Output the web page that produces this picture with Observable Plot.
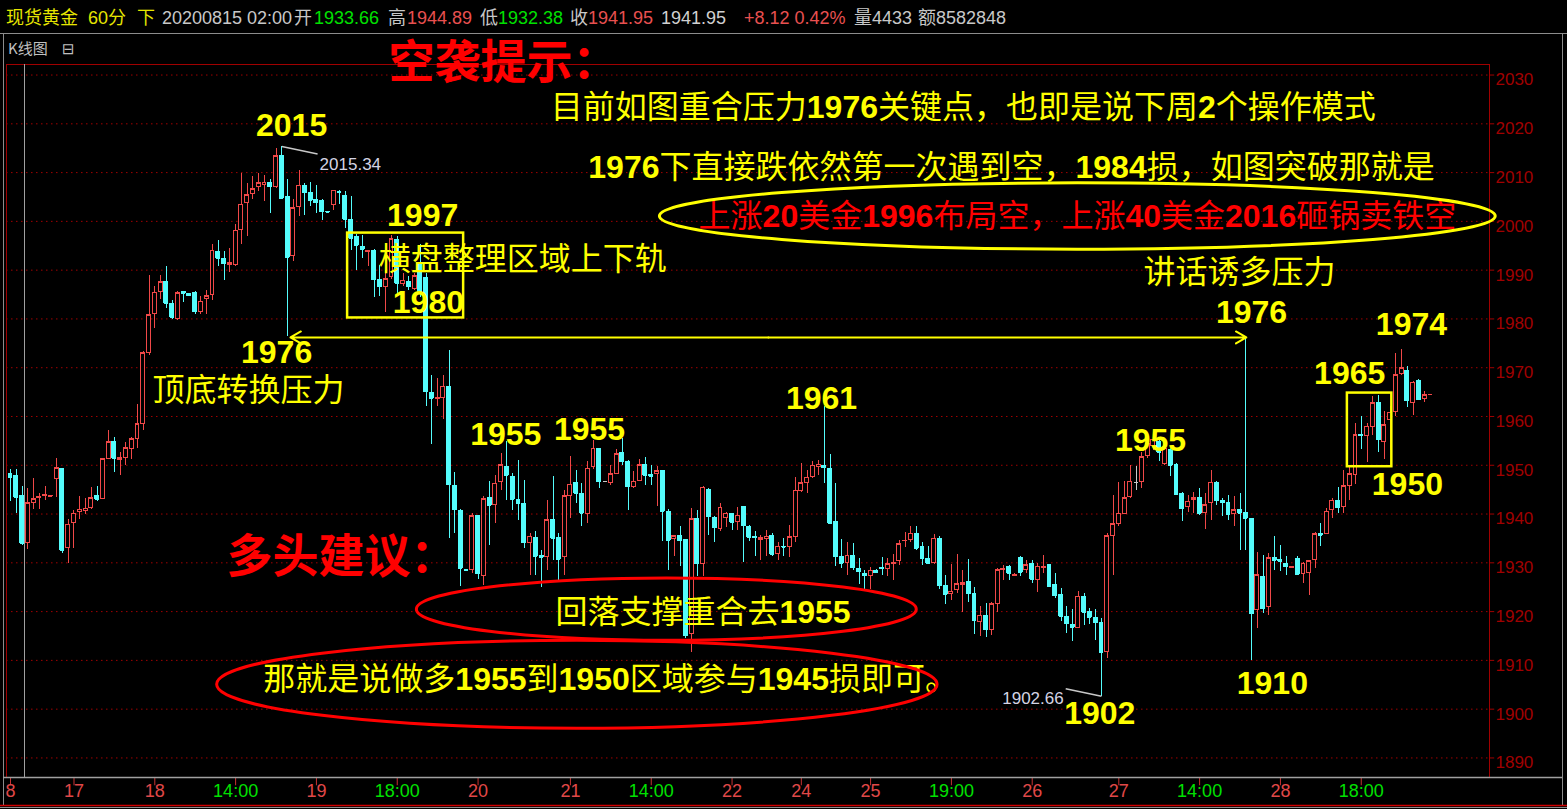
<!DOCTYPE html>
<html><head><meta charset="utf-8">
<script src="https://cdn.jsdelivr.net/npm/d3@7"></script>
<script src="https://cdn.jsdelivr.net/npm/@observablehq/plot@0.6"></script>
<style>
html,body{margin:0;padding:0;background:#000;overflow:hidden;width:1567px;height:809px;}
#header{position:relative;height:33px;width:1567px;border-bottom:1px solid #8c8c8c;font-family:"Liberation Sans","Noto Sans CJK SC",sans-serif;font-size:18px;}
#header span{position:absolute;top:8px;line-height:20px;white-space:nowrap;}
#chart svg{display:block;}
</style></head><body>
<div id="header"></div>
<div id="chart"></div>
<script>
// ---- data: hourly candles (spot gold, 60 min) ----
const open = [
1948.2,1947.7,1943.7,1934.0,1942.2,1943.2,1943.6,1943.6,1947.1,1949.2,
1933.0,1938.2,1940.4,1940.6,1941.3,1943.7,1943.0,1951.2,1954.7,1951.1,
1951.4,1953.3,1955.4,1958.4,1973.0,1981.0,1985.6,1987.5,1983.1,1979.9,
1985.6,1985.1,1985.4,1981.5,1984.0,1984.9,1993.8,1992.3,1991.1,1991.1,
1998.2,2003.7,2005.6,2007.0,2007.5,2007.9,2007.1,2013.3,2004.9,1992.8,
2003.0,2007.3,2005.9,2004.3,2004.2,2002.0,2003.4,2006.1,2005.1,2000.3,
1996.7,1994.7,1993.7,1994.0,1987.9,1986.6,1988.5,1996.2,1987.1,1987.6,
1986.1,1991.1,1988.3,1964.9,1963.5,1963.7,1966.1,1945.8,1940.6,1928.6,
1928.5,1939.6,1927.4,1943.2,1941.8,1946.6,1949.7,1947.6,1942.8,1942.1,
1934.1,1935.0,1931.3,1931.2,1938.7,1935.0,1931.2,1943.8,1946.4,1944.2,
1940.0,1949.7,1953.4,1946.6,1946.4,1948.3,1952.5,1950.7,1945.6,1946.8,
1950.0,1948.0,1948.2,1948.8,1940.4,1934.8,1935.6,1934.6,1915.5,1938.9,
1929.8,1945.0,1939.2,1937.0,1939.2,1940.0,1938.3,1941.4,1937.4,1935.2,
1934.7,1934.9,1935.5,1931.9,1933.3,1933.2,1935.2,1944.8,1946.3,1947.5,
1949.7,1949.9,1949.2,1938.3,1931.2,1929.9,1931.4,1928.7,1927.8,1927.3,
1928.4,1929.0,1928.7,1929.7,1930.3,1934.4,1934.7,1936.0,1933.3,1930.8,
1929.9,1934.9,1925.3,1923.6,1924.4,1925.4,1926.1,1923.7,1917.9,1919.2,
1916.3,1921.6,1928.5,1929.2,1927.4,1931.0,1928.6,1929.8,1926.4,1929.0,
1929.5,1925.4,1923.5,1918.9,1917.2,1916.7,1923.0,1919.9,1918.6,1917.7,
1911.7,1935.4,1938.0,1940.1,1943.5,1946.4,1946.6,1952.0,1954.0,1954.8,
1950.2,1953.2,1950.0,1944.1,1941.5,1942.8,1943.2,1940.2,1942.2,1946.4,
1942.7,1942.3,1940.0,1940.8,1940.2,1938.9,1920.3,1927.0,1921.0,1930.9,
1930.5,1929.7,1929.0,1930.7,1927.8,1927.9,1930.5,1936.0,1936.0,1940.8,
1942.7,1941.5,1945.7,1948.0,1956.2,1956.0,1957.9,1962.7,1954.8,1959.3,
1961.0,1968.7,1969.4,1962.8,1967.3,1963.5,1964.4];
const high = [
1949.2,1949.2,1945.7,1945.3,1947.3,1944.2,1945.6,1943.7,1951.3,1949.4,
1938.8,1940.8,1943.6,1943.2,1945.4,1945.7,1951.4,1957.2,1955.7,1952.6,
1954.6,1955.7,1962.4,1973.4,1989.0,1986.6,1989.0,1990.7,1983.8,1985.6,
1985.7,1985.1,1985.7,1984.6,1985.9,1995.3,1996.0,1993.8,1994.5,1999.3,
2009.9,2007.8,2009.2,2009.9,2009.5,2008.5,2015.0,2015.34,2008.5,2004.4,
2010.4,2007.8,2008.0,2007.3,2004.4,2002.1,2006.4,2006.4,2006.1,2005.0,
1997.4,1997.2,1994.1,1994.3,1990.9,1990.0,1997.2,1996.9,1989.4,1988.7,
1989.4,1995.2,1989.4,1968.5,1967.8,1968.5,1973.5,1948.5,1940.9,1928.6,
1940.2,1939.8,1943.5,1946.6,1948.0,1952.5,1954.8,1948.4,1951.0,1946.9,
1936.1,1936.5,1932.6,1942.8,1947.6,1936.0,1944.9,1951.7,1949.0,1946.2,
1950.7,1955.1,1953.4,1946.7,1950.0,1953.2,1955.5,1951.0,1948.8,1951.2,
1951.6,1950.0,1949.7,1949.0,1940.9,1935.6,1937.4,1934.8,1941.1,1940.8,
1945.7,1945.2,1939.4,1942.1,1940.3,1940.1,1941.4,1941.5,1937.7,1936.4,
1935.5,1936.7,1936.0,1934.2,1934.9,1937.6,1947.5,1950.3,1949.0,1950.8,
1951.0,1962.1,1952.2,1946.3,1934.7,1934.2,1934.0,1930.8,1928.4,1929.0,
1928.7,1931.1,1930.8,1931.8,1934.5,1936.2,1937.4,1937.4,1934.2,1933.3,
1935.8,1935.3,1927.3,1929.7,1931.8,1928.5,1930.7,1925.0,1921.1,1921.6,
1921.8,1928.8,1929.5,1929.5,1927.9,1931.2,1930.4,1930.5,1929.8,1931.5,
1929.7,1927.9,1924.7,1921.1,1920.4,1924.2,1923.8,1920.6,1920.4,1918.6,
1936.0,1943.8,1946.4,1946.6,1950.0,1949.7,1952.7,1954.8,1956.0,1955.1,
1953.8,1953.8,1950.3,1944.5,1943.8,1944.5,1945.2,1944.2,1948.9,1946.6,
1943.2,1943.7,1943.5,1944.2,1976.2,1939.1,1932.2,1931.6,1931.9,1935.3,
1933.6,1931.2,1929.1,1931.2,1930.0,1930.5,1936.3,1938.1,1941.1,1943.2,
1945.4,1948.9,1950.0,1958.6,1959.9,1958.6,1964.2,1964.4,1961.0,1962.0,
1972.9,1973.8,1970.3,1967.1,1967.5,1965.1,1964.5];
const low = [
1942.5,1940.1,1933.6,1932.8,1941.0,1941.0,1942.7,1943.5,1943.4,1931.9,
1929.9,1933.0,1938.8,1940.0,1941.0,1942.5,1942.9,1951.1,1948.6,1948.0,
1950.0,1951.2,1953.5,1957.2,1972.6,1978.1,1984.0,1982.2,1979.9,1979.7,
1983.3,1984.6,1980.9,1980.9,1981.0,1983.8,1990.7,1987.8,1989.6,1990.7,
1995.2,1996.9,2004.5,2006.1,2004.0,2001.7,2006.8,2004.5,1976.5,1991.7,
2001.1,2001.3,2003.0,2001.7,2000.1,2001.9,2002.2,2003.4,1998.6,1994.1,
1990.0,1992.4,1990.7,1984.4,1984.6,1981.3,1988.0,1984.9,1986.6,1985.9,
1985.8,1984.4,1962.0,1954.2,1962.0,1959.4,1935.0,1936.0,1925.1,1928.4,
1927.8,1926.5,1925.4,1933.6,1938.0,1944.9,1942.8,1940.8,1938.7,1932.9,
1927.4,1927.4,1925.0,1928.5,1930.5,1926.4,1927.4,1939.1,1942.1,1937.5,
1938.0,1949.1,1945.2,1946.5,1945.9,1948.2,1950.0,1940.8,1945.2,1946.6,
1945.9,1945.9,1941.5,1934.3,1928.5,1931.2,1929.2,1914.5,1911.7,1927.1,
1927.1,1935.6,1934.1,1936.5,1937.3,1936.6,1936.6,1930.1,1934.4,1931.2,
1930.4,1931.2,1931.2,1930.5,1931.2,1931.1,1934.2,1944.5,1944.2,1947.2,
1947.9,1946.3,1937.8,1929.2,1928.9,1927.3,1928.4,1925.6,1924.2,1924.6,
1927.8,1927.3,1927.1,1926.4,1929.4,1933.2,1934.2,1932.6,1929.4,1929.7,
1929.7,1924.6,1921.5,1922.2,1923.7,1919.9,1921.8,1915.3,1914.8,1914.7,
1915.1,1919.9,1926.4,1926.4,1927.4,1927.2,1927.8,1925.7,1924.0,1927.9,
1925.0,1922.7,1917.9,1915.6,1913.8,1916.5,1917.2,1917.4,1914.1,1902.66,
1910.4,1927.4,1937.5,1940.0,1943.2,1944.9,1945.2,1951.4,1953.0,1950.7,
1950.0,1947.6,1943.8,1938.4,1940.4,1940.1,1939.7,1936.8,1938.7,1941.8,
1939.4,1938.7,1937.4,1932.6,1932.6,1910.0,1916.5,1919.6,1919.2,1928.5,
1928.3,1927.3,1928.9,1927.3,1925.7,1923.4,1928.8,1933.3,1935.9,1939.1,
1940.2,1940.1,1942.8,1946.1,1953.2,1950.5,1956.2,1952.6,1951.1,1953.0,
1959.9,1968.5,1961.9,1960.3,1963.2,1962.8,1964.3];
const close = [
1947.4,1943.4,1934.0,1942.2,1943.0,1943.5,1944.0,1943.65,1949.4,1932.6,
1937.8,1940.1,1940.9,1941.1,1943.2,1943.0,1951.2,1954.7,1951.4,1951.4,
1953.5,1955.3,1958.4,1973.0,1980.8,1985.4,1987.5,1983.2,1980.3,1985.3,
1985.3,1984.8,1981.5,1983.5,1984.6,1994.0,1992.4,1991.3,1991.4,1998.1,
2003.4,2005.4,2006.6,2007.8,2007.9,2007.1,2013.3,2004.7,1992.6,2002.7,
2007.3,2005.9,2004.3,2003.8,2002.0,2001.9,2006.3,2005.9,2000.4,1996.5,
1995.1,1994.3,1993.9,1988.0,1986.6,1988.1,1996.3,1987.3,1987.8,1986.6,
1988.8,1985.6,1965.1,1963.7,1963.7,1966.1,1946.0,1940.9,1928.9,1928.5,
1939.5,1927.8,1943.0,1941.8,1946.2,1950.0,1948.0,1943.0,1942.1,1934.1,
1935.3,1931.3,1931.1,1938.7,1935.0,1930.7,1943.6,1946.0,1944.3,1940.2,
1949.3,1953.4,1946.6,1946.6,1948.2,1952.3,1950.7,1945.6,1946.6,1950.0,
1948.0,1947.7,1948.8,1940.6,1934.6,1935.4,1934.5,1915.1,1938.9,1929.8,
1945.4,1939.4,1937.2,1941.3,1940.1,1938.3,1939.7,1937.6,1935.2,1935.1,
1935.0,1935.3,1931.8,1933.3,1933.2,1935.2,1944.8,1946.3,1947.4,1949.9,
1950.1,1949.5,1938.1,1931.2,1929.9,1931.4,1929.0,1928.2,1927.3,1928.4,
1928.0,1928.8,1929.7,1929.9,1933.8,1934.5,1936.0,1933.0,1930.8,1929.9,
1934.9,1925.3,1923.6,1924.1,1925.6,1925.8,1923.7,1918.2,1919.2,1916.3,
1921.5,1928.5,1928.8,1927.9,1927.6,1928.1,1929.5,1926.6,1929.2,1929.2,
1925.2,1923.3,1919.0,1917.5,1916.8,1923.0,1919.9,1918.8,1917.7,1911.7,
1935.4,1937.9,1940.1,1943.2,1946.6,1946.4,1951.6,1954.4,1955.2,1952.7,
1953.4,1950.0,1944.1,1941.1,1942.5,1943.2,1940.2,1941.8,1946.4,1942.7,
1942.3,1940.0,1940.8,1940.2,1939.1,1919.6,1927.5,1920.6,1930.9,1930.5,
1930.3,1929.2,1929.05,1927.7,1929.8,1930.3,1935.9,1935.7,1940.5,1942.7,
1941.3,1945.7,1948.2,1956.2,1956.0,1957.9,1962.7,1955.2,1958.2,1960.8,
1968.5,1969.9,1963.2,1966.9,1963.4,1964.4,1964.5];

// x-axis ticks (candle index) and their labels
const tickIdx = [0,11,25,39,53,67,81,97,111,125,137,149,163,177,192,206,220,234];
const tickLabels = ["8","17","18","14:00","19","18:00","20","21","14:00","22","24","25","19:00","26","27","14:00","28","18:00"];
const priceTicks = [1890,1900,1910,1920,1930,1940,1950,1960,1970,1980,1990,2000,2010,2020,2030];

// header quote
const headerItems = [
  ["现货黄金","#e6e600",6],["60分","#e6e600",88],["下","#e6e600",137],
  ["20200815 02:00","#c8c8c8",162],["开","#c8c8c8",294],["1933.66","#00e000",314],
  ["高","#c8c8c8",388],["1944.89","#e85050",407],["低","#c8c8c8",480],["1932.38","#00e000",498],
  ["收","#c8c8c8",570],["1941.95","#e85050",588],["1941.95","#d0d0d0",661],
  ["+8.12 0.42%","#e85050",744],["量4433","#c8c8c8",854],["额8582848","#c8c8c8",918]
];

// annotations (candle index, price)
const levelLabels = [
  {text:"2015",i:48.7,p:2019.6},{text:"1997",i:71.4,p:2001.2},{text:"1980",i:72.4,p:1983.4},
  {text:"1976",i:46.1,p:1973.1},{text:"1955",i:85.8,p:1956.3},{text:"1955",i:100.3,p:1957.3},
  {text:"1961",i:140.5,p:1963.7},{text:"1976",i:215.0,p:1981.3},{text:"1974",i:242.7,p:1978.9},
  {text:"1965",i:232.0,p:1968.8},{text:"1955",i:197.5,p:1955.1},{text:"1950",i:242.0,p:1946.1},
  {text:"1910",i:218.6,p:1905.3},{text:"1902",i:188.7,p:1899.1}
];
const headlines = [{text:"空袭提示：",i:65.5,p:2032.5},{text:"多头建议：",i:37.4,p:1931.1}];
const notes = [
  {text:"目前如图重合压力1976关键点，也即是说下周2个操作模式",i:93.6,p:2023.3},
  {text:"1976下直接跌依然第一次遇到空，1984损，如图突破那就是",i:100.1,p:2011.0},
  {text:"横盘整理区域上下轨",i:63.8,p:1992.2},
  {text:"讲话诱多压力",i:196.3,p:1989.5},
  {text:"顶底转换压力",i:24.6,p:1965.3},
  {text:"回落支撑重合去1955",i:94.4,p:1919.8},
  {text:"那就是说做多1955到1950区域参与1945损即可。",i:43.8,p:1906.1}
];
const redNotes = [{text:"上涨20美金1996布局空，上涨40美金2016砸锅卖铁空",i:119.2,p:2001.0}];
const boxes = [{i1:58.4,i2:78.5,p1:1980.2,p2:1997.6},{i1:231.6,i2:239.3,p1:1949.7,p2:1964.8}];
const highMark = {text:"2015.34",i:47,p:2015.34,ti:53.2,tp:2013.8};
const lowMark = {text:"1902.66",i:189,p:1902.66,ti:182.8,tp:1904.2};
const supportLine = {from:48.5,to:214.1,p:1976.2};
const ellipses = [
  {i:184.9,p:2001.0,ri:72.4,rp:6.8,color:"#ffff00"},
  {i:113.7,p:1920.4,ri:43.3,rp:6.4,color:"#ff0000"},
  {i:98.2,p:1905.0,ri:62.4,rp:9.0,color:"#ff0000"}
];

// ---- header ----
const header = document.getElementById("header");
for (const [t,c,x] of headerItems) {
  const s = document.createElement("span");
  s.textContent = t; s.style.color = c; s.style.left = x + "px";
  header.appendChild(s);
}

// ---- chart ----
const n = Math.min(open.length, high.length, low.length, close.length);
const candles = d3.range(n).map(i => ({i, o: open[i], h: high[i], l: low[i], c: close[i]}));
const UP = "#f04848", DOWN = "#54fcfc", FLAT = "#c8c8c8";
const col = d => d.c > d.o ? UP : d.c < d.o ? DOWN : FLAT;
const xDomain = [-0.693, 256.22];
const yDomain = [1885.99, 2032.16];
const HW = 0.34;
const CJK = "Noto Sans CJK SC, sans-serif";
const LAT = "Liberation Sans, Arial, sans-serif";

const plot = Plot.plot({
  width: 1567, height: 775,
  marginTop: 30, marginBottom: 32, marginLeft: 6, marginRight: 78,
  x: {domain: xDomain, axis: null},
  y: {domain: yDomain, axis: null},
  color: {type: "identity"},
  style: {background: "black", fontFamily: LAT, overflow: "visible"},
  marks: [
    Plot.ruleY(priceTicks, {y: d => d, stroke: "#a00000", strokeDasharray: "1.5,3.5"}),
    Plot.frame({stroke: "#a00000"}),
    // right price axis
    Plot.ruleY(priceTicks, {y: d => d, x1: xDomain[1], x2: xDomain[1] + 0.9, stroke: "#a00000"}),
    Plot.text(priceTicks, {y: d => d, text: d => String(d), frameAnchor: "right", textAnchor: "start", dx: 6, dy: 5, fill: "#a00000", fontSize: 17}),
    // bottom time axis
    Plot.ruleX(tickIdx, {x: d => d, y1: yDomain[0], y2: yDomain[0] - 1.7, stroke: "#c83232"}),
    Plot.text(tickIdx, {x: d => d, text: (d, k) => tickLabels[k], frameAnchor: "bottom", dy: 19, fontSize: 18,
      fill: (d, k) => tickLabels[k].includes(":") ? "#00e000" : "#e04848"}),
    // candles
    Plot.ruleX(candles, {x: "i", y1: "l", y2: "h", stroke: col, shapeRendering: "crispEdges"}),
    Plot.rect(candles, {x1: d => d.i - HW, x2: d => d.i + HW, y1: d => Math.min(d.o, d.c), y2: d => Math.max(d.o, d.c),
      fill: d => d.c > d.o ? "black" : col(d), stroke: col, shapeRendering: "crispEdges"}),
    Plot.ruleY(candles, {y: "c", x1: d => d.i - HW, x2: d => d.i + HW, stroke: col, shapeRendering: "crispEdges"}),
    // annotations
    Plot.rect(boxes, {x1: "i1", x2: "i2", y1: "p1", y2: "p2", fill: "none", stroke: "#ffff00", strokeWidth: 2.5}),
    Plot.arrow([supportLine, supportLine], {x1: d => (d.from + d.to) / 2, x2: (d, k) => k ? d.to : d.from,
      y1: d => d.p, y2: d => d.p, stroke: "#ffff00", strokeWidth: 2, headLength: 9}),
    Plot.link([highMark, lowMark], {x1: "i", y1: "p", x2: "ti", y2: "tp", stroke: "#c8c8c8", strokeWidth: 1.5}),
    Plot.text([highMark], {x: "ti", y: "tp", text: "text", textAnchor: "start", dx: 2, dy: 10, fill: "#d4d4e4", fontSize: 17}),
    Plot.text([lowMark], {x: "ti", y: "tp", text: "text", textAnchor: "end", dx: -2, dy: 10, fill: "#d4d4e4", fontSize: 17}),
    Plot.text(levelLabels, {x: "i", y: "p", text: "text", fill: "#ffff00", fontSize: 32, fontWeight: "bold", fontFamily: LAT}),
    Plot.text(headlines, {x: "i", y: "p", text: "text", textAnchor: "start", fill: "#ff0000", fontSize: 46, fontWeight: "bold", fontFamily: CJK}),
    Plot.text(notes, {x: "i", y: "p", text: "text", textAnchor: "start", fill: "#ffff00", fontSize: 32, fontFamily: CJK}),
    Plot.text(redNotes, {x: "i", y: "p", text: "text", textAnchor: "start", fill: "#ff0000", fontSize: 32, fontFamily: CJK})
  ]
});

document.getElementById("chart").appendChild(plot);

const svg = d3.select(plot);
const xs = plot.scale("x"), ys = plot.scale("y");
// ellipses
for (const e of ellipses) {
  svg.append("ellipse").attr("cx", xs.apply(e.i)).attr("cy", ys.apply(e.p))
    .attr("rx", Math.abs(xs.apply(e.i + e.ri) - xs.apply(e.i)))
    .attr("ry", Math.abs(ys.apply(e.p + e.rp) - ys.apply(e.p)))
    .attr("fill", "none").attr("stroke", e.color).attr("stroke-width", 3);
}
// mixed CJK + digit texts: digits in bold latin face
svg.selectAll("text").each(function() {
  const t = this.textContent;
  if (/[\u4e00-\u9fff]/.test(t) && /\d/.test(t) && this.childElementCount === 0) {
    const parts = t.split(/(\d+)/).filter(s => s.length);
    this.textContent = "";
    for (const s of parts) {
      const ts = document.createElementNS("http://www.w3.org/2000/svg", "tspan");
      ts.textContent = s;
      if (/^\d+$/.test(s)) { ts.setAttribute("font-family", LAT); ts.setAttribute("font-weight", "bold"); }
      this.appendChild(ts);
    }
  }
});
// window chrome
const yTop = ys.apply(yDomain[1]), yBot = ys.apply(yDomain[0]);
svg.append("line").attr("x1", 3.5).attr("x2", 3.5).attr("y1", 0).attr("y2", 772).attr("stroke", "#8c8c8c");
svg.append("line").attr("x1", 24.5).attr("x2", 24.5).attr("y1", yTop).attr("y2", yBot).attr("stroke", "#a0a0a0");
svg.append("line").attr("x1", 3).attr("x2", 1562).attr("y1", yBot + 0.5).attr("y2", yBot + 0.5).attr("stroke", "#a0a0a0").attr("stroke-width", 1.5);
svg.append("line").attr("x1", 1562.5).attr("x2", 1562.5).attr("y1", 0).attr("y2", 772).attr("stroke", "#8c8c8c");
svg.append("line").attr("x1", 0).attr("x2", 1567).attr("y1", 771.5).attr("y2", 771.5).attr("stroke", "#d00000").attr("stroke-width", 1.5);
svg.append("line").attr("x1", 0).attr("x2", 1567).attr("y1", 773.5).attr("y2", 773.5).attr("stroke", "#8c8c8c");
svg.append("text").attr("x", 8).attr("y", 20).attr("text-anchor", "start").attr("fill", "#c0c0c0").attr("font-size", 15).attr("font-family", CJK).text("K线图");
svg.append("text").attr("x", 62).attr("y", 20).attr("text-anchor", "start").attr("fill", "#c0c0c0").attr("font-size", 15).attr("font-family", "DejaVu Sans").text("⊟");
</script>
</body></html>
